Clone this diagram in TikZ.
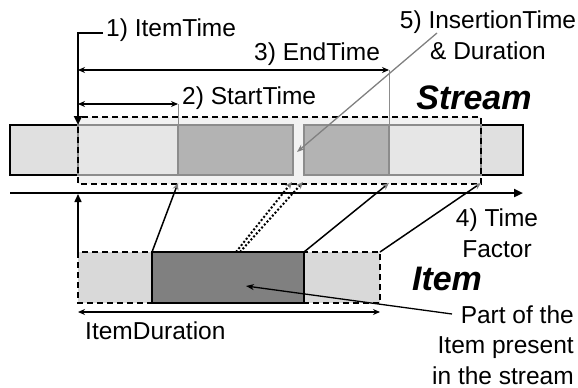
\documentclass[tikz,border=0pt]{standalone}
\usepackage{fontspec}
\setmainfont{Liberation Sans}
\usetikzlibrary{arrows.meta}
\definecolor{winbg}{HTML}{F2F2F2}
\definecolor{sidefill}{HTML}{E0E0E0}
\definecolor{litefill}{HTML}{E6E6E6}
\definecolor{midfill}{HTML}{B3B3B3}
\definecolor{itemlite}{HTML}{D9D9D9}
\definecolor{itemdark}{HTML}{808080}
\definecolor{edgegray}{HTML}{8C8C8C}
\begin{document}
\begin{tikzpicture}[x=1pt,y=-1pt,
	lbl/.style={font=\fontsize{24.5}{30.5}\selectfont,inner sep=0pt},
	big/.style={font=\fontsize{34}{40}\selectfont\bfseries\itshape,inner sep=0pt},
	dim/.style={line width=1.3pt,{Stealth[length=7pt,width=6pt]}-{Stealth[length=7pt,width=6pt]}},
	map/.style={line width=1.5pt,-{Stealth[length=7pt,width=6pt,color=gray]}},
	dots/.style={line width=2pt,dash pattern=on 2pt off 2pt,-{Stealth[length=7pt,width=6pt,color=gray]}},
	dashbox/.style={line width=1.4pt,dash pattern=on 6pt off 4pt}]
	\useasboundingbox (0,0) rectangle (578,388);
	% stream
	\fill[winbg] (78,117) rectangle (481,184);
	\draw[line width=1.4pt,fill=sidefill] (10,125) rectangle (78,175);
	\draw[line width=1.4pt,fill=sidefill] (481,125) rectangle (523,175);
	\draw[edgegray,line width=1.3pt,fill=litefill] (78,125) rectangle (178,175);
	\draw[edgegray,line width=1.3pt,fill=midfill] (178,125) rectangle (293,175);
	\draw[edgegray,line width=1.3pt,fill=midfill] (304,125) rectangle (389,175);
	\draw[edgegray,line width=1.3pt,fill=litefill] (389,125) rectangle (481,175);
	\draw[dashbox] (78,117) rectangle (481,184);
	\draw[line width=2.5pt,-{Triangle[length=9pt,width=8pt]}] (10,193)--(523,193);
	% item
	\draw[dashbox,fill=itemlite] (78,252) rectangle (152,303);
	\draw[dashbox,fill=itemlite] (304,252) rectangle (380,303);
	\draw[line width=1.4pt,fill=itemdark] (152,252) rectangle (304,303);
	% points
	\coordinate (it) at (78,125);
	\coordinate (st) at (178,104);
	\coordinate (et) at (389,70);
	\coordinate (gapA) at (292,182);
	\coordinate (gapB) at (303,182);
	\coordinate (gapC) at (297,152);
	\coordinate (sA) at (178,183);
	\coordinate (sB) at (389,183);
	\coordinate (sC) at (481,183);
	\coordinate (iA) at (152,252);
	\coordinate (iB) at (304,252);
	\coordinate (iC) at (380,252);
	\coordinate (iDa) at (236,252);
	\coordinate (iDb) at (240,252);
	\coordinate (iE) at (246,286);
	% labels
	\node[lbl,anchor=west] (itemtime) at (106,30) {1) ItemTime};
	\node[lbl,anchor=west] (starttime) at (182,98) {2) StartTime};
	\node[lbl,anchor=west] (endtime) at (254,54) {3) EndTime};
	\node[lbl,align=center] (insert) at (488,35) {5) InsertionTime\\\& Duration};
	\node[lbl,align=center] (factor) at (497,233) {4) Time\\Factor};
	\node[big] (stream) at (474,98) {Stream};
	\node[big] (item) at (447,279) {Item};
	\node[lbl,anchor=west] (dur) at (85,331) {ItemDuration};
	\node[lbl,align=right,anchor=east] (part) at (574,345) {Part of the\\Item present\\in the stream};
	% connectors
	\draw[line width=2.5pt,-{Triangle[length=9pt,width=8pt]}] (itemtime.west)+(-3,3) -| (it);
	\draw[line width=1.5pt,-{Triangle[length=8pt,width=7pt]}] (78,252)--(78,194);
	\draw[dim] (78,104)--(st);
	\draw[dim] (78,70)--(et);
	\draw[edgegray,line width=1pt] (st)--(178,125);
	\draw[edgegray,line width=1pt] (et)--(389,125);
	\draw[dim] (78,312)--(380,312);
	\draw[gray,line width=1.3pt,-{Stealth[length=8pt,width=6pt]}] (437,33)--(gapC);
	\draw[map] (iA)--(sA);
	\draw[map] (iB)--(sB);
	\draw[map] (iC)--(sC);
	\draw[dots] (iDa)--(gapA);
	\draw[dots] (iDb)--(gapB);
	\draw[line width=1.3pt,-{Stealth[length=8pt,width=6pt]}] (452,314)--(iE);
\end{tikzpicture}
\end{document}
